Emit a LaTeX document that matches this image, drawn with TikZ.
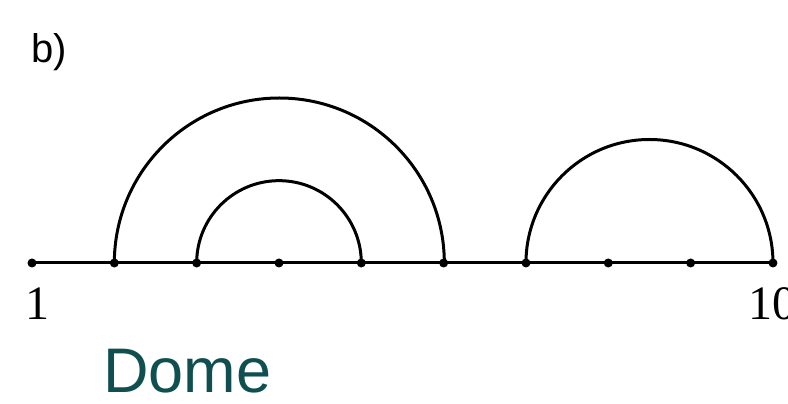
\documentclass[tikz,border=0pt]{standalone}
\usepackage{fontspec}
\setmainfont{Liberation Serif}
\newfontfamily\labelsans{Liberation Sans}
\usepackage{xcolor}
\usetikzlibrary{positioning, calc}
\definecolor{domeTeal}{HTML}{0F4F50}
\tikzset{
  pt/.style={circle, fill=black, inner sep=0pt, minimum size=9pt},
  lne/.style={line width=3pt},
  numlbl/.style={font=\fontsize{48}{48}\selectfont, anchor=base, inner sep=0pt},
  capt/.style={font=\labelsans\fontsize{63}{63}\selectfont, text=domeTeal, anchor=base west, inner sep=0pt},
  tag/.style={font=\labelsans\fontsize{40}{40}\selectfont, anchor=base west, inner sep=0pt}
}
\begin{document}
\begin{tikzpicture}[x=1pt, y=1pt]
  \useasboundingbox (0,0) rectangle (788,404);

  % points on the line
  \foreach \i in {1,...,10}
    \coordinate (p\i) at ({32+82.33*(\i-1)},141);

  \draw[lne] (p1) -- (p10);

  % arcs
  \draw[lne] (p2) arc[start angle=180, end angle=0, radius=165];
  \draw[lne] (p3) arc[start angle=180, end angle=0, radius=82.33];
  \draw[lne] (p7) arc[start angle=180, end angle=0, radius=123.5];

  \foreach \i in {1,...,10}
    \node[pt] (d\i) at (p\i) {};

  \node[numlbl] (one) at (37,84) {1};
  \node[numlbl, anchor=base west] (ten) at (748,84) {10};

  \node[tag] (lbl) at (31,341) {b)};
  \node[capt] (dome) at (103,11) {Dome};
\end{tikzpicture}
\end{document}
